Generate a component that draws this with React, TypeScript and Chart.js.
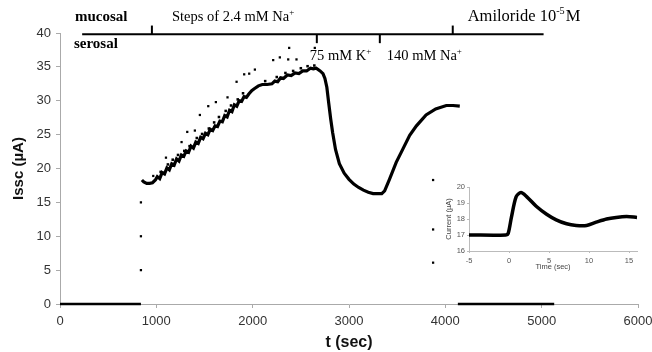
import React, { useEffect, useRef } from "react";
import { Chart, registerables } from "chart.js";
Chart.register(...registerables);

// ---- main trace (t in sec, Issc in µA) ----
const baselineBefore: [number, number][] = [[0, 0], [840, 0]];
const baselineAfter: [number, number][] = [[4130, 0], [5130, 0]];
const mainCurve: [number, number][] = [
  [850, 18.3], [870, 18.0], [900, 17.8], [930, 17.8], [960, 17.9], [990, 18.3], [1010, 18.8], [1035, 18.5],
  [1060, 19.4], [1085, 19.2], [1110, 20.1], [1135, 19.8], [1160, 20.7], [1185, 20.5], [1210, 21.4], [1235, 21.1],
  [1260, 22.0], [1285, 21.8], [1310, 22.6], [1335, 22.4], [1360, 23.3], [1385, 23.0], [1410, 23.9], [1435, 23.7],
  [1460, 24.6], [1485, 24.4], [1510, 25.2], [1535, 25.0], [1560, 25.8], [1585, 25.6], [1610, 26.3], [1635, 26.2],
  [1660, 27.0], [1685, 26.9], [1710, 27.8], [1735, 27.6], [1760, 28.6], [1785, 28.4], [1810, 29.4], [1835, 29.2],
  [1860, 30.0], [1885, 29.9], [1910, 30.6], [1935, 30.5], [1960, 31.0], [1990, 31.5], [2020, 31.8], [2060, 32.2],
  [2100, 32.4], [2150, 32.4], [2200, 32.5], [2230, 32.9], [2260, 32.8], [2290, 33.4], [2320, 33.3], [2360, 33.8],
  [2400, 33.7], [2440, 34.1], [2480, 34.0], [2520, 34.4], [2560, 34.4], [2600, 34.8], [2630, 34.7], [2660, 34.8],
  [2700, 34.4], [2730, 34.0], [2750, 33.3], [2770, 32.0], [2790, 29.6], [2810, 27.3], [2830, 25.3], [2860, 22.8],
  [2900, 20.7], [2950, 19.3], [3000, 18.4], [3050, 17.7], [3100, 17.2], [3150, 16.8], [3200, 16.5], [3250, 16.3],
  [3300, 16.3], [3340, 16.3], [3370, 16.7], [3420, 18.4], [3490, 20.9], [3560, 22.9], [3630, 24.9], [3700, 26.3],
  [3800, 27.9], [3900, 28.8], [4010, 29.3], [4080, 29.3], [4150, 29.2],
];
// small spikes riding on the rising band
const bandDots: [number, number][] = [
  [1045, 19.5], [1120, 20.6], [1170, 21.3], [1225, 22.0], [1290, 22.6], [1345, 23.3], [1420, 24.5], [1475, 25.1],
  [1545, 25.9], [1600, 26.8], [1650, 27.6], [1720, 28.5], [1775, 29.3], [1845, 30.2], [1900, 31.1], [2130, 32.9],
  [2250, 33.5], [2340, 34.1], [2420, 34.4], [2500, 34.8], [2570, 35.1], [2640, 35.2],
];
const spikeDots: [number, number][] = [
  [968, 18.9], [1100, 21.6], [1262, 23.9], [1321, 25.4], [1400, 25.6], [1452, 27.9], [1539, 29.2], [1618, 29.8],
  [1739, 30.5], [1833, 32.8], [1912, 33.9], [1964, 34.0], [2023, 34.6], [2213, 36.0], [2282, 36.4], [2369, 36.1],
  [2379, 37.8], [2455, 36.1], [2645, 37.8],
];
const onsetDots: [number, number][] = [[840, 5], [840, 10], [840, 15]];
const lateDots: [number, number][] = [[3873, 6.1], [3873, 11.0], [3873, 18.3]];

const xTicksMain = { min: 0, max: 6000, step: 1000 };
const yTicksMain = { min: 0, max: 40, step: 5 };

// ---- inset trace ----
const insetCurve: [number, number][] = [
  [-5, 17.0], [-0.4, 17.0], [-0.1, 17.1], [0.3, 18.1], [0.9, 19.4], [1.5, 19.65], [2.2, 19.4], [3.4, 18.8],
  [4.7, 18.3], [5.9, 17.95], [7.2, 17.7], [8.4, 17.6], [9.7, 17.6], [10.9, 17.8], [12.2, 18.0], [13.4, 18.1],
  [14.7, 18.15], [16, 18.1],
];
const insetXTicks = [-5, 0, 5, 10, 15];
const insetYRange = { min: 16, max: 20, step: 1 };
const insetXRange = { min: -5, max: 16 };

// ---- solution-change annotations (t, level in µA units) ----
const barLine = { from: 230, to: 5020, level: 39.8 };
const barTicks: { t: number; to: number }[] = [
  { t: 954, to: 41.1 },
  { t: 2666, to: 38.5 },
  { t: 3320, to: 38.5 },
  { t: 4077, to: 41.1 },
];
type Part = { text: string; sup?: boolean };
const barLabels: { t: number; v: number; bold?: boolean; size: number; parts: Part[] }[] = [
  { t: 156, v: 42.35, bold: true, size: 15, parts: [{ text: "mucosal" }] },
  { t: 1162, v: 42.35, size: 14.5, parts: [{ text: "Steps of 2.4 mM Na" }, { text: "+", sup: true }] },
  { t: 145, v: 38.3, bold: true, size: 15, parts: [{ text: "serosal" }] },
  { t: 2593, v: 36.55, size: 14.5, parts: [{ text: "75 mM K" }, { text: "+", sup: true }] },
  { t: 3392, v: 36.55, size: 14.5, parts: [{ text: "140 mM Na" }, { text: "+", sup: true }] },
  { t: 4232, v: 42.35, size: 16.5, parts: [{ text: "Amiloride 10" }, { text: "-5", sup: true }, { text: "M" }] },
];

const pts = (a: [number, number][]) => a.map(([x, y]) => ({ x, y }));

const annotationPlugin = {
  id: "solutionBar",
  afterDraw(chart: any) {
    const { ctx, scales } = chart;
    const xs = scales.x, ys = scales.y;
    ctx.save();
    ctx.strokeStyle = "#000";
    ctx.lineWidth = 2;
    const yl = ys.getPixelForValue(barLine.level);
    ctx.beginPath();
    ctx.moveTo(xs.getPixelForValue(barLine.from), yl);
    ctx.lineTo(xs.getPixelForValue(barLine.to), yl);
    ctx.stroke();
    for (const tk of barTicks) {
      const px = xs.getPixelForValue(tk.t);
      ctx.beginPath();
      ctx.moveTo(px, yl);
      ctx.lineTo(px, ys.getPixelForValue(tk.to));
      ctx.stroke();
    }
    ctx.fillStyle = "#000";
    ctx.textBaseline = "middle";
    ctx.textAlign = "left";
    for (const lb of barLabels) {
      let px = xs.getPixelForValue(lb.t);
      const py = ys.getPixelForValue(lb.v);
      for (const p of lb.parts) {
        const size = p.sup ? lb.size * 0.62 : lb.size;
        ctx.font = `${lb.bold ? "bold " : ""}${size}px "Liberation Serif", "Times New Roman", serif`;
        ctx.fillText(p.text, px, p.sup ? py - lb.size * 0.33 : py);
        px += ctx.measureText(p.text).width + (p.sup ? 1 : 0);
      }
    }
    ctx.restore();
  },
};

const SANS = '"Liberation Sans", Arial, sans-serif';
const plain = (v: any) => String(v);

function MainChart() {
  const ref = useRef<HTMLCanvasElement>(null);
  useEffect(() => {
    const lineDs = (data: [number, number][], w: number) => ({
      data: pts(data),
      showLine: true,
      borderColor: "#000",
      borderWidth: w,
      pointRadius: 0,
      tension: 0,
      clip: false as any,
    });
    const dotDs = (data: [number, number][], r = 1.6) => ({
      data: pts(data),
      showLine: false,
      pointStyle: "rect",
      pointRadius: r,
      backgroundColor: "#000",
      borderColor: "#000",
      borderWidth: 0,
      clip: false as any,
    });
    const chart = new Chart(ref.current!, {
      type: "scatter",
      data: {
        datasets: [
          lineDs(baselineBefore, 2.5),
          lineDs(baselineAfter, 2.5),
          lineDs(mainCurve, 3.2),
          dotDs(bandDots, 1.8),
          dotDs(spikeDots),
          dotDs(onsetDots),
          dotDs(lateDots),
        ],
      },
      options: {
        responsive: false,
        animation: false,
        devicePixelRatio: 1,
        layout: { padding: { top: 33, left: 0, right: 14, bottom: 0 } },
        plugins: { legend: { display: false }, tooltip: { enabled: false } },
        scales: {
          x: {
            type: "linear",
            min: xTicksMain.min,
            max: xTicksMain.max,
            afterFit: (s: any) => { s.height = 48; s.paddingRight = 0; s.paddingLeft = 0; },
            ticks: { stepSize: xTicksMain.step, callback: plain, color: "#333", font: { family: SANS, size: 13 }, padding: 6 },
            grid: { drawOnChartArea: false, drawTicks: true, tickLength: 4, color: "#aaa" },
            border: { color: "#aaa", width: 1 },
            title: { display: true, text: "t (sec)", color: "#111", font: { family: SANS, size: 16, weight: "bold" }, padding: { top: 0, bottom: 0 } },
          },
          y: {
            type: "linear",
            min: yTicksMain.min,
            max: yTicksMain.max,
            afterFit: (s: any) => { s.width = 60; },
            ticks: { stepSize: yTicksMain.step, callback: plain, color: "#333", font: { family: SANS, size: 13 }, padding: 5 },
            grid: { drawOnChartArea: false, drawTicks: true, tickLength: 4, color: "#aaa" },
            border: { color: "#aaa", width: 1 },
            title: { display: true, text: "Issc (µA)", color: "#111", font: { family: SANS, size: 15, weight: "bold" }, padding: { top: 10, bottom: 0 } },
          },
        },
      } as any,
      plugins: [annotationPlugin],
    });
    return () => chart.destroy();
  }, []);
  return <canvas ref={ref} width={652} height={352} style={{ position: "absolute", left: 0, top: 0, width: 652, height: 352 }} />;
}

function InsetChart() {
  const ref = useRef<HTMLCanvasElement>(null);
  useEffect(() => {
    const chart = new Chart(ref.current!, {
      type: "scatter",
      data: {
        datasets: [
          {
            data: pts(insetCurve),
            showLine: true,
            borderColor: "#000",
            borderWidth: 3.5,
            pointRadius: 0,
            tension: 0.3,
            clip: false as any,
          },
        ],
      },
      options: {
        responsive: false,
        animation: false,
        devicePixelRatio: 1,
        layout: { padding: { top: 9, left: 0, right: 15, bottom: 0 } },
        plugins: { legend: { display: false }, tooltip: { enabled: false } },
        scales: {
          x: {
            type: "linear",
            min: insetXRange.min,
            max: insetXRange.max,
            afterFit: (s: any) => { s.height = 25; },
            afterBuildTicks: (s: any) => { s.ticks = insetXTicks.map((value) => ({ value })); },
            ticks: { callback: plain, color: "#555", font: { family: SANS, size: 7.5 }, padding: 3 },
            grid: { drawOnChartArea: false, drawTicks: true, tickLength: 2, color: "#bbb" },
            border: { color: "#bbb", width: 1 },
            title: { display: true, text: "Time (sec)", color: "#444", font: { family: SANS, size: 7.5 }, padding: { top: 0, bottom: 4.5 } },
          },
          y: {
            type: "linear",
            min: insetYRange.min,
            max: insetYRange.max,
            afterFit: (s: any) => { s.width = 29; },
            ticks: { stepSize: insetYRange.step, callback: plain, color: "#555", font: { family: SANS, size: 7.5 }, padding: 2 },
            grid: { drawOnChartArea: false, drawTicks: true, tickLength: 2, color: "#bbb" },
            border: { color: "#bbb", width: 1 },
            title: { display: true, text: "Current (µA)", color: "#444", font: { family: SANS, size: 7.5 }, padding: { top: 4.5, bottom: 0 } },
          },
        },
      } as any,
    });
    return () => chart.destroy();
  }, []);
  return <canvas ref={ref} width={212} height={98} style={{ position: "absolute", left: 440, top: 178, width: 212, height: 98 }} />;
}

export default function App() {
  return (
    <div style={{ position: "fixed", left: 0, top: 0, width: 652, height: 352, background: "#fff", overflow: "hidden" }}>
      <MainChart />
      <InsetChart />
    </div>
  );
}
